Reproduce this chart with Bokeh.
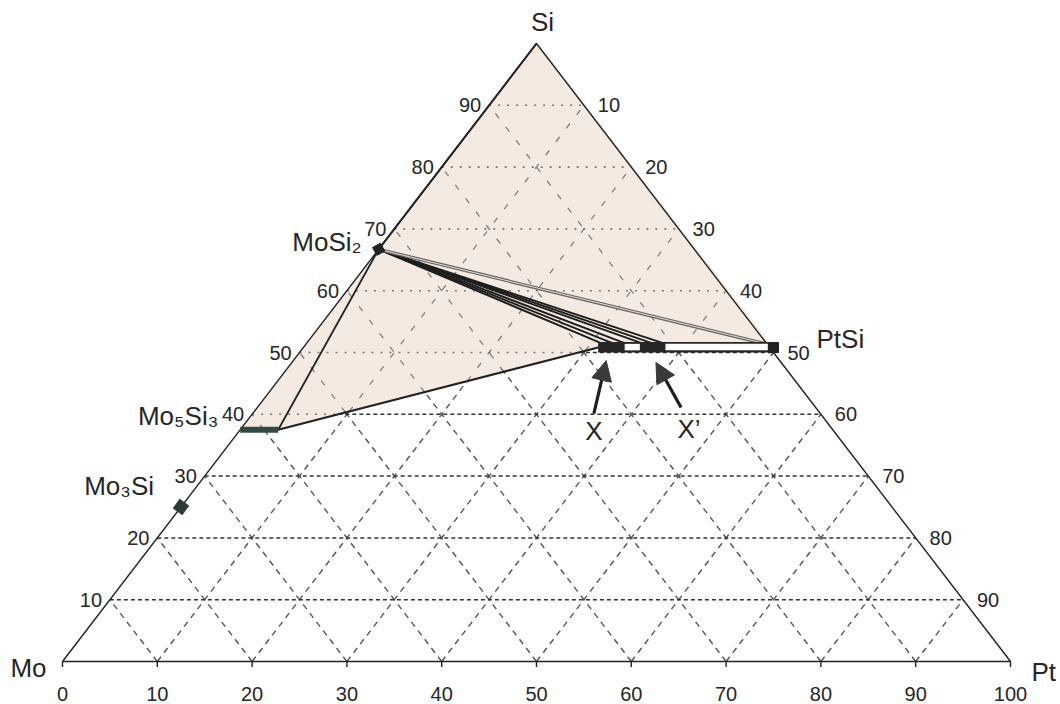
import numpy as np
from bokeh.plotting import figure
from bokeh.models import Arrow, NormalHead, Range1d
from bokeh.core.properties import value
from bokeh.embed import file_html
from bokeh.resources import INLINE

# ---------------- data (compositions in at.%: (Pt, Si)) ----------------
bottom_ticks = [0, 10, 20, 30, 40, 50, 60, 70, 80, 90, 100]
grid_levels = [10, 20, 30, 40, 50, 60, 70, 80, 90]

MoSi2 = (0.0, 66.7)
Mo3Si = (0.0, 25.0)
Mo5Si3_pt = [0.0, 4.0]
Mo5Si3_si = 37.5
PtSi = (49.6, 50.8)

bar_pt = [31.1, 49.6]        # three-phase bar along ~50 at.% Si
bar_si = [50.0, 51.7]
X_pt = [31.1, 33.8]
Xp_pt = [35.6, 38.1]
white_pt = [[33.9, 35.5], [38.2, 49.0]]

tie_pt = [31.3, 32.5, 33.8, 35.6, 36.7, 37.9]
tie_si = 51.4

# arrows: (tail Pt, tail Si) -> (head Pt, head Si)
arrow_X = ((36.0, 40.1), (33.0, 48.7))
arrow_Xp = ((44.7, 41.1), (38.4, 48.4))

LABEL_FONT = "Liberation Sans, Arial, sans-serif"
TICK_FONT = "Liberation Sans Narrow, Arial Narrow, Liberation Sans, sans-serif"


def cx(pt, si):
    return pt + si / 2.0


def cart(pt, si):
    return (cx(pt, si), si)


# ---------------- figure ----------------
PX_X = 9.48
PX_Y = 6.18
W, H = 1060, 704
x0 = -62 / PX_X
y0 = -(H - 661) / PX_Y
p = figure(width=W, height=H, output_backend="svg", toolbar_location=None,
           x_range=Range1d(x0, x0 + W / PX_X), y_range=Range1d(y0, y0 + H / PX_Y),
           x_axis_type=None, y_axis_type=None, min_border=0,
           outline_line_color=None, background_fill_color="white")
p.grid.visible = False

# shaded region
poly = [cart(0, 100), cart(0, Mo5Si3_si), cart(Mo5Si3_pt[1], Mo5Si3_si),
        cart(bar_pt[0], 50.8), cart(PtSi[0], 50.8)]
p.patch([q[0] for q in poly], [q[1] for q in poly], fill_color="#f5eae1", line_color=None)


def inside(pt, poly):
    x, y = pt
    c = False
    n = len(poly)
    for i in range(n):
        ax, ay = poly[i]
        bx, by = poly[(i + 1) % n]
        if (ay > y) != (by > y):
            xi = ax + (y - ay) * (bx - ax) / (by - ay)
            if xi > x:
                c = not c
    return c


def clip(a, b, poly):
    a = np.array(a, float)
    b = np.array(b, float)
    d = b - a
    ts = [0.0, 1.0]
    n = len(poly)
    for i in range(n):
        pa = np.array(poly[i], float)
        pb = np.array(poly[(i + 1) % n], float)
        e = pb - pa
        den = d[0] * e[1] - d[1] * e[0]
        if abs(den) < 1e-12:
            continue
        w = pa - a
        t = (w[0] * e[1] - w[1] * e[0]) / den
        u = (w[0] * d[1] - w[1] * d[0]) / den
        if 0 < t < 1 and -1e-9 <= u <= 1 + 1e-9:
            ts.append(t)
    ts = sorted(set(ts))
    segs = []
    for t0, t1 in zip(ts[:-1], ts[1:]):
        if t1 - t0 < 1e-9:
            continue
        m = a + d * (t0 + t1) / 2
        ins = inside(m, poly)
        if segs and segs[-1][2] == ins:
            segs[-1][1] = t1
        else:
            segs.append([t0, t1, ins])
    return [(a + d * s[0], a + d * s[1], s[2]) for s in segs]


h_in, h_out, d_in, d_out = ([], []), ([], []), ([], []), ([], [])
for s in grid_levels:
    for s0, s1, ins in clip(cart(0, s), cart(100 - s, s), poly):
        tgt = h_in if ins else h_out
        tgt[0].append([s0[0], s1[0]])
        tgt[1].append([s0[1], s1[1]])
for v in grid_levels:
    lines = [(cart(v, 0), cart(v, 100 - v)), (cart(100 - v, 0), cart(0, 100 - v))]
    for A, B in lines:
        for s0, s1, ins in clip(A, B, poly):
            tgt = d_in if ins else d_out
            tgt[0].append([s0[0], s1[0]])
            tgt[1].append([s0[1], s1[1]])

p.multi_line(d_out[0], d_out[1], line_color="#555555", line_width=1.4, line_dash="6 5")
p.multi_line(d_in[0], d_in[1], line_color="#808080", line_width=1.3, line_dash="6 11")
p.multi_line(h_out[0], h_out[1], line_color="#333333", line_width=1.5, line_dash="4 3")
p.multi_line(h_in[0], h_in[1], line_color="#777777", line_width=1.6, line_dash="2 7")

# triangle
tri = [cart(0, 0), cart(100, 0), cart(0, 100), cart(0, 0)]
p.line([q[0] for q in tri], [q[1] for q in tri], line_color="#222222", line_width=1.4)
p.line([cart(*MoSi2)[0], cart(0, 100)[0]], [MoSi2[1], 100], line_color="#222222", line_width=2)

# bottom ticks
p.segment(x0=bottom_ticks, y0=[0] * len(bottom_ticks), x1=bottom_ticks,
          y1=[-0.9] * len(bottom_ticks), line_color="#222222", line_width=1.4)

# phase-field boundaries
m5r = cart(Mo5Si3_pt[1], Mo5Si3_si)
p.line([m5r[0], cart(*MoSi2)[0]], [m5r[1], MoSi2[1]], line_color="#222222", line_width=1.8)
p.line([m5r[0], cart(bar_pt[0], 50.8)[0]], [m5r[1], 50.8], line_color="#222222", line_width=2.2)

# tie lines from MoSi2
ms = cart(*MoSi2)
p.multi_line([[ms[0], cx(t, tie_si)] for t in tie_pt], [[ms[1], tie_si] for _ in tie_pt],
             line_color="#1e1e1e", line_width=2)
p.line([ms[0], cart(*PtSi)[0]], [ms[1], PtSi[1] + 0.3], line_color="#666666", line_width=3.4)
p.line([ms[0], cart(*PtSi)[0]], [ms[1], PtSi[1] + 0.3], line_color="#e6dcd3", line_width=1.0)

# three-phase bar
p.quad(left=[cx(bar_pt[0], 50.8)], right=[cx(bar_pt[1], 50.8) + 0.3], bottom=[bar_si[0]], top=[bar_si[1]],
       fill_color="#262626", line_color=None)
p.quad(left=[cx(w[0], 50.8) for w in white_pt], right=[cx(w[1], 50.8) for w in white_pt],
       bottom=[bar_si[0] + 0.35] * 2, top=[bar_si[1] - 0.3] * 2, fill_color="white", line_color=None)

# Mo5Si3 bar
p.line([cx(v, Mo5Si3_si) for v in Mo5Si3_pt], [Mo5Si3_si] * 2, line_color="#304a40", line_width=6)

# point phases
p.scatter([cart(*MoSi2)[0]], [MoSi2[1]], marker="square", size=9, angle=0.5,
          fill_color="#222222", line_color="#222222")
p.scatter([cart(*Mo3Si)[0]], [Mo3Si[1]], marker="square", size=11, angle=0.95,
          fill_color="#2c3a35", line_color="#2c3a35")
p.scatter([cart(*PtSi)[0]], [PtSi[1]], marker="square", size=10,
          fill_color="#222222", line_color="#222222")

# arrows
for (tp, ts), (hp, hs) in (arrow_X, arrow_Xp):
    p.add_layout(Arrow(end=NormalHead(size=20, fill_color="#3a3a3a", line_color="#3a3a3a"),
                       x_start=cx(tp, ts), y_start=ts, x_end=cx(hp, hs), y_end=hs,
                       line_color="#1e1e1e", line_width=3.2))


def txt(xs, ys, texts, size, font, xo=0, yo=0, align="center", base="middle"):
    p.text(x=xs, y=ys, text=texts, x_offset=xo, y_offset=yo, text_align=align,
           text_baseline=base, text_font=value(font), text_font_size=size, text_color="#262626")


# tick labels
txt([cx(0, s) for s in grid_levels], grid_levels, [str(s) for s in grid_levels], "20px", TICK_FONT, xo=-19)
txt([cx(v, 100 - v) for v in grid_levels], [100 - v for v in grid_levels], [str(v) for v in grid_levels],
    "20px", TICK_FONT, xo=25)
txt(bottom_ticks, [0] * len(bottom_ticks), [str(t) for t in bottom_ticks], "20px", TICK_FONT, yo=32)

# phase / corner labels
txt([cart(*MoSi2)[0]], [MoSi2[1]], ["MoSi₂"], "26px", LABEL_FONT, xo=-17, yo=-7, align="right")
txt([cx(0, Mo5Si3_si)], [Mo5Si3_si], ["Mo₅Si₃"], "26px", LABEL_FONT, xo=-22, yo=-14, align="right")
txt([cart(*Mo3Si)[0]], [Mo3Si[1]], ["Mo₃Si"], "26px", LABEL_FONT, xo=-27, yo=-21, align="right")
txt([cart(*PtSi)[0]], [PtSi[1]], ["PtSi"], "26px", LABEL_FONT, xo=43, yo=-9, align="left")
txt([50], [100], ["Si"], "26px", LABEL_FONT, xo=6, yo=-22)
txt([0], [0], ["Mo"], "26px", LABEL_FONT, xo=-16, yo=6, align="right")
txt([100], [0], ["Pt"], "26px", LABEL_FONT, xo=21, yo=10, align="left")
txt([cx(*arrow_X[0])], [arrow_X[0][1]], ["X"], "26px", LABEL_FONT, yo=17)
txt([cx(*arrow_Xp[0])], [arrow_Xp[0][1]], ["X’"], "26px", LABEL_FONT, xo=8, yo=21)

open("out.html", "w").write(file_html(p, INLINE))
